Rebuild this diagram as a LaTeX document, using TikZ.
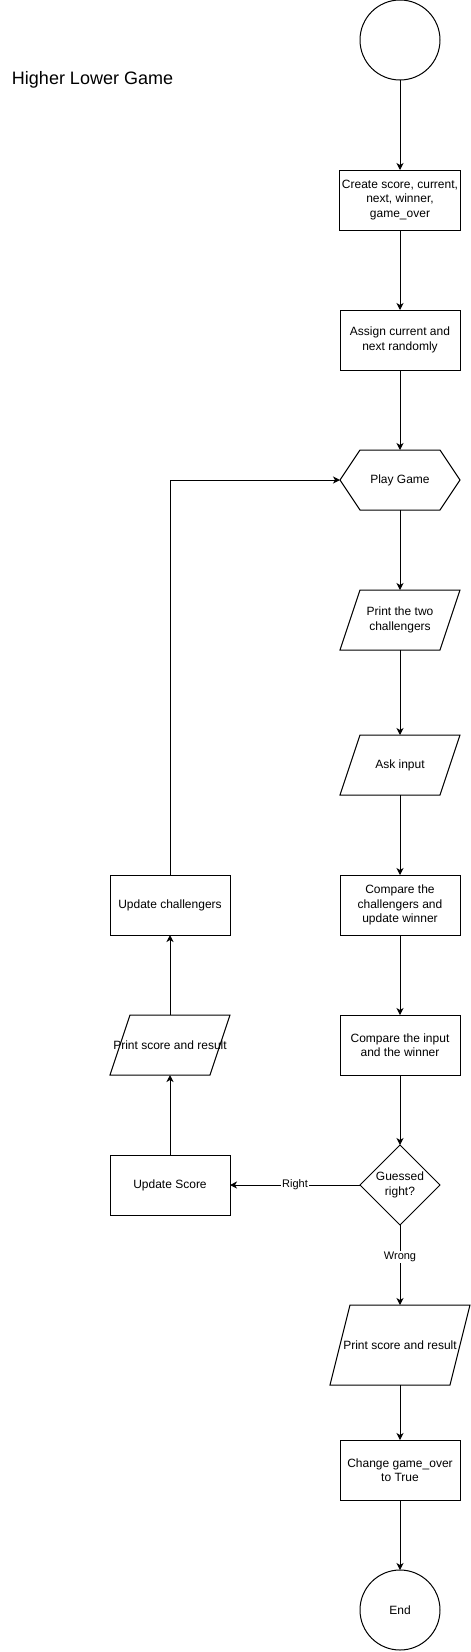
\documentclass[tikz,border=0pt]{standalone}
\usepackage{fontspec}
\setmainfont{Liberation Sans}
\usetikzlibrary{arrows.meta,calc,shapes.geometric}

% slanted outline round a plain node: #1 node name, #2 slant
\newcommand{\ioframe}[2]{\draw (#1.south west) -- ($(#1.north west)+(#2,0)$) -- (#1.north east)
    -- ($(#1.south east)+(-#2,0)$) -- cycle;}

\begin{document}
\begin{tikzpicture}[x=1pt,y=-1pt,line width=1pt,
        font=\fontsize{12}{14.4}\selectfont,
        every node/.style={inner sep=2pt,outer sep=0pt,align=center},
        flow/.style={-{Stealth[length=7pt,width=7pt,inset=2pt]}},
        proc/.style={draw,rectangle,minimum width=120pt,minimum height=60pt},
        io/.style={rectangle,minimum width=120pt,minimum height=60pt},
        term/.style={draw,circle,minimum size=80pt},
        elabel/.style={fill=white,inner sep=1pt,font=\fontsize{11}{13}\selectfont}]
        \useasboundingbox (0,0) rectangle (471,1652);
        \node[anchor=west,font=\fontsize{18}{21}\selectfont] (title) at (10,80) {Higher Lower Game};
        % main column
        \node[term] (start) at (400,40) {};
        \node[proc] (create) at (400,200) {Create score, current,\\next, winner,\\game\_over};
        \node[proc] (assign) at (400,340) {Assign current and\\next randomly};
        \node[minimum width=120pt,minimum height=60pt] (play) at (400,480) {Play Game};
        \draw (play.west) -- ($(play.north west)+(20,0)$) -- ($(play.north east)+(-20,0)$) -- (play.east)
            -- ($(play.south east)+(-20,0)$) -- ($(play.south west)+(20,0)$) -- cycle;
        \node[io] (printtwo) at (400,620) {Print the two\\challengers};
        \ioframe{printtwo}{20}
        \node[io] (ask) at (400,765) {Ask input};
        \ioframe{ask}{20}
        \node[proc] (cmpch) at (400,905) {Compare the\\challengers and\\update winner};
        \node[proc] (cmpin) at (400,1045) {Compare the input\\and the winner};
        \node[draw,diamond,aspect=1,inner sep=0pt,minimum width=80pt,minimum height=80pt] (guess) at (400,1185) {Guessed\\right?};
        \node[io,minimum width=140pt,minimum height=80pt] (printend) at (400,1345) {Print score and result};
        \ioframe{printend}{20}
        \node[proc] (change) at (400,1470) {Change game\_over\\to True};
        \node[term] (end) at (400,1610) {End};
        % left column
        \node[proc] (updscore) at (170,1185) {Update Score};
        \node[io] (printsc) at (170,1045) {Print score and result};
        \ioframe{printsc}{20}
        \node[proc] (updch) at (170,905) {Update challengers};
        % connectors
        \draw[flow] (start) -- (create);
        \draw[flow] (create) -- (assign);
        \draw[flow] (assign) -- (play.north);
        \draw[flow] (play.south) -- (printtwo.north);
        \draw[flow] (printtwo.south) -- (ask.north);
        \draw[flow] (ask.south) -- (cmpch);
        \draw[flow] (cmpch) -- (cmpin);
        \draw[flow] (cmpin) -- (guess);
        \draw[flow] (guess) -- node[elabel,pos=0.4] {Wrong} (printend.north);
        \draw[flow] (printend.south) -- (change);
        \draw[flow] (change) -- (end);
        \draw[flow] (guess) -- node[elabel] {Right} (updscore);
        \draw[flow] (updscore) -- (printsc.south);
        \draw[flow] (printsc.north) -- (updch);
        \draw[flow] (updch.north) |- (play.west);
\end{tikzpicture}
\end{document}
